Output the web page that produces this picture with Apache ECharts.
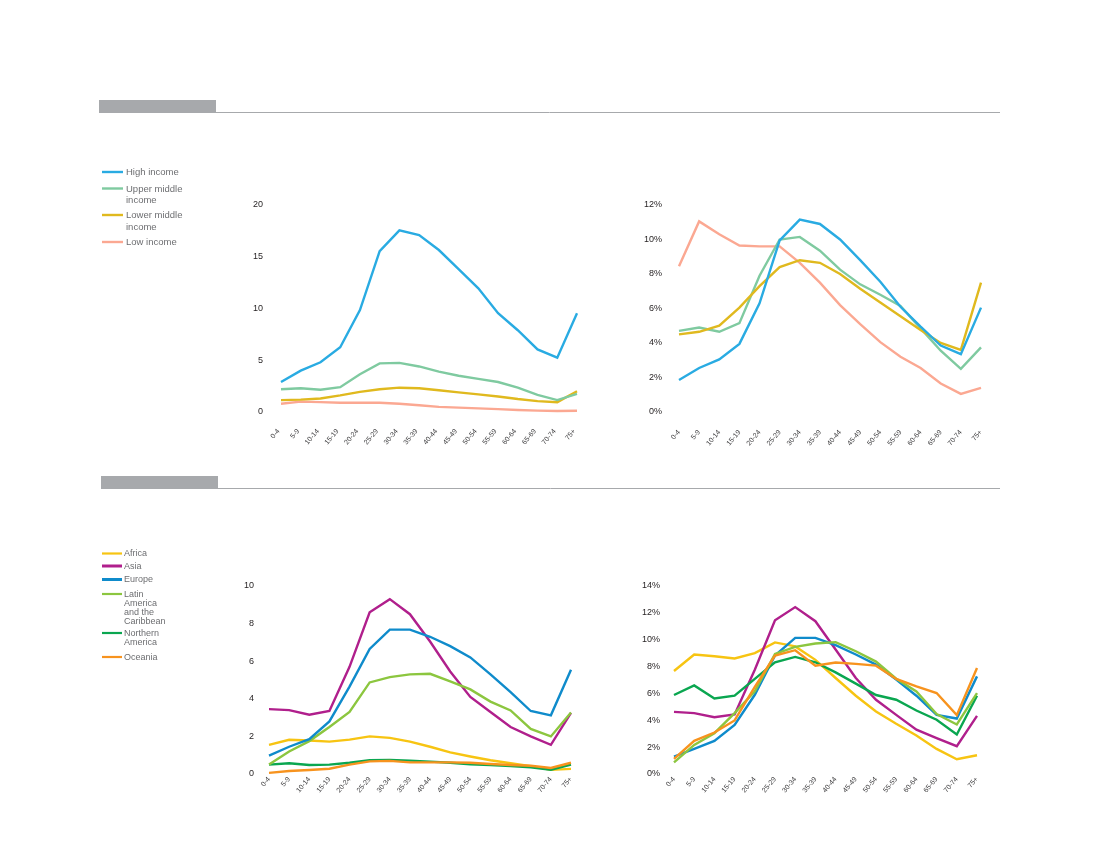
<!DOCTYPE html>
<html>
<head>
<meta charset="utf-8">
<style>
html, body { margin: 0; padding: 0; background: #fff; }
#main { width: 1100px; height: 850px; }
</style>
<script src="https://cdn.jsdelivr.net/npm/echarts@6/dist/echarts.min.js"></script>
</head>
<body>
<div id="main"></div>
<script>
var ages = ['0-4', '5-9', '10-14', '15-19', '20-24', '25-29', '30-34', '35-39', '40-44', '45-49', '50-54', '55-59', '60-64', '65-69', '70-74', '75+'];

// by income group, millions
var highAbs = [2.9, 4.0, 4.8, 6.25, 9.85, 15.55, 17.55, 17.1, 15.65, 13.8, 11.95, 9.55, 7.9, 6.05, 5.25, 9.55];
var upperAbs = [2.2, 2.3, 2.15, 2.4, 3.65, 4.7, 4.75, 4.4, 3.9, 3.5, 3.2, 2.9, 2.35, 1.65, 1.15, 1.75];
var lowerAbs = [1.15, 1.2, 1.3, 1.6, 1.95, 2.2, 2.35, 2.3, 2.1, 1.9, 1.7, 1.5, 1.25, 1.05, 0.95, 2.0];
var lowAbs = [0.8, 1.0, 0.95, 0.9, 0.9, 0.9, 0.8, 0.65, 0.5, 0.42, 0.35, 0.28, 0.2, 0.13, 0.1, 0.12];

// by income group, share %
var highPct = [1.85, 2.55, 3.05, 3.95, 6.3, 9.95, 11.15, 10.9, 10, 8.8, 7.55, 6.1, 4.95, 3.85, 3.35, 6.05];
var upperPct = [4.7, 4.9, 4.65, 5.15, 7.9, 10, 10.15, 9.35, 8.25, 7.4, 6.8, 6.15, 4.85, 3.55, 2.5, 3.75];
var lowerPct = [4.5, 4.65, 5.0, 6.05, 7.3, 8.4, 8.8, 8.65, 8, 7.15, 6.35, 5.55, 4.75, 4.0, 3.6, 7.5];
var lowPct = [8.45, 11.05, 10.3, 9.65, 9.6, 9.6, 8.65, 7.5, 6.2, 5.1, 4.05, 3.2, 2.55, 1.65, 1.05, 1.4];

// by region, millions
var africaAbs = [1.55, 1.82, 1.78, 1.72, 1.83, 2.0, 1.92, 1.72, 1.45, 1.15, 0.93, 0.73, 0.57, 0.42, 0.22, 0.27];
var asiaAbs = [3.45, 3.4, 3.15, 3.35, 5.7, 8.6, 9.3, 8.5, 7.05, 5.45, 4.1, 3.3, 2.5, 2.0, 1.55, 3.25];
var europeAbs = [0.98, 1.45, 1.85, 2.8, 4.65, 6.65, 7.68, 7.68, 7.3, 6.8, 6.2, 5.3, 4.35, 3.35, 3.12, 5.55];
var latinAbs = [0.5, 1.2, 1.75, 2.5, 3.3, 4.87, 5.15, 5.3, 5.33, 4.93, 4.5, 3.85, 3.38, 2.4, 2.0, 3.27];
var northAbs = [0.5, 0.57, 0.48, 0.5, 0.6, 0.73, 0.75, 0.71, 0.66, 0.6, 0.52, 0.48, 0.42, 0.35, 0.23, 0.5];
var oceaniaAbs = [0.06, 0.16, 0.21, 0.28, 0.5, 0.67, 0.7, 0.62, 0.62, 0.62, 0.6, 0.53, 0.48, 0.44, 0.32, 0.6];

// by region, share %
var africaPct = [7.67, 8.9, 8.77, 8.6, 9.0, 9.8, 9.5, 8.5, 7.15, 5.83, 4.66, 3.74, 2.87, 1.87, 1.1, 1.4];
var asiaPct = [4.63, 4.53, 4.23, 4.43, 7.77, 11.45, 12.43, 11.38, 9.27, 7.15, 5.53, 4.4, 3.3, 2.67, 2.07, 4.33];
var europePct = [1.3, 1.87, 2.47, 3.66, 5.9, 8.82, 10.14, 10.14, 9.6, 8.9, 8.15, 7.03, 5.83, 4.4, 4.13, 7.27];
var latinPct = [0.87, 2.17, 3.04, 4.53, 6.15, 8.94, 9.47, 9.72, 9.82, 9.14, 8.37, 7.1, 6.15, 4.46, 3.69, 6.03];
var northPct = [5.88, 6.6, 5.63, 5.83, 7.08, 8.32, 8.72, 8.32, 7.57, 6.73, 5.88, 5.53, 4.73, 4.04, 2.94, 5.83];
var oceaniaPct = [1.12, 2.47, 3.09, 3.99, 6.48, 8.82, 9.22, 8.07, 8.3, 8.2, 8.07, 7.08, 6.53, 6.03, 4.38, 7.9];

var incomeNames = ['High income', 'Upper middle\nincome', 'Lower middle\nincome', 'Low income'];
var incomeColors = ['#29abe2', '#7fcaa0', '#e0b91e', '#fba892'];
var regionNames = ['Africa', 'Asia', 'Europe', 'Latin\nAmerica\nand the\nCaribbean', 'Northern\nAmerica', 'Oceania'];
var regionColors = ['#f7c412', '#b01f8c', '#0f8bcb', '#8cc63f', '#0aa650', '#f7931e'];

var textFont = '"Liberation Sans", sans-serif';
var myChart = echarts.init(document.getElementById('main'), null, { renderer: 'canvas' });

// each panel: plot box in pixels and its y axis
var panels = [
    { left: 281, right: 523, top: 205, height: 207, max: 20, interval: 5, suffix: '', margin: 18, labelMargin: 15, labelPad: 4 },
    { left: 679, right: 119, top: 205, height: 207, max: 12, interval: 2, suffix: '%', margin: 17, labelMargin: 19, labelPad: 0 },
    { left: 269, right: 529, top: 586, height: 188, max: 10, interval: 2, suffix: '', margin: 15, labelMargin: 4, labelPad: 0 },
    { left: 674, right: 123, top: 586, height: 188, max: 14, interval: 2, suffix: '%', margin: 14, labelMargin: 4, labelPad: 0 }
];

var panelSeries = [
    { names: incomeNames, colors: incomeColors, data: [lowAbs, lowerAbs, upperAbs, highAbs], order: [3, 2, 1, 0] },
    { names: incomeNames, colors: incomeColors, data: [lowPct, upperPct, lowerPct, highPct], order: [3, 1, 2, 0] },
    { names: regionNames, colors: regionColors, data: [africaAbs, northAbs, oceaniaAbs, asiaAbs, latinAbs, europeAbs], order: [0, 4, 5, 1, 3, 2] },
    { names: regionNames, colors: regionColors, data: [africaPct, asiaPct, europePct, northPct, latinPct, oceaniaPct], order: [0, 1, 2, 4, 3, 5] }
];

var grids = [], xAxes = [], yAxes = [], series = [];
panels.forEach(function (p, i) {
    grids.push({ left: p.left, right: p.right, top: p.top, height: p.height });
    xAxes.push({
        type: 'category',
        gridIndex: i,
        data: ages,
        boundaryGap: false,
        axisLine: { show: false },
        axisTick: { show: false },
        splitLine: { show: false },
        axisLabel: {
            interval: 0,
            rotate: 50,
            fontSize: 7,
            color: '#414042',
            margin: p.labelMargin,
            padding: [0, p.labelPad, 0, 0],
            fontFamily: textFont,
            hideOverlap: false
        }
    });
    yAxes.push({
        type: 'value',
        gridIndex: i,
        min: 0,
        max: p.max,
        interval: p.interval,
        axisLine: { show: false },
        axisTick: { show: false },
        splitLine: { show: false },
        axisLabel: {
            fontSize: 9,
            color: '#231f20',
            margin: p.margin,
            fontFamily: textFont,
            formatter: '{value}' + p.suffix
        }
    });
    var s = panelSeries[i];
    s.data.forEach(function (values, k) {
        series.push({
            name: s.names[s.order[k]],
            type: 'line',
            xAxisIndex: i,
            yAxisIndex: i,
            data: values,
            symbol: 'none',
            silent: true,
            lineStyle: { width: 2.4, color: s.colors[s.order[k]], join: 'miter' }
        });
    });
});

// header bars and rules, legends are drawn by hand since the spacing is uneven
var graphics = [
    { type: 'rect', shape: { x: 99, y: 100, width: 117, height: 12 }, style: { fill: '#a7a9ac' } },
    { type: 'line', shape: { x1: 99, y1: 112.5, x2: 1000, y2: 112.5 }, style: { stroke: '#a7a9ac', lineWidth: 1 } },
    { type: 'rect', shape: { x: 101, y: 476, width: 117, height: 12 }, style: { fill: '#a7a9ac' } },
    { type: 'line', shape: { x1: 101, y1: 488.5, x2: 1000, y2: 488.5 }, style: { stroke: '#a7a9ac', lineWidth: 1 } }
];

function addLegend(names, colors, rowsY, lineX1, lineX2, textX, lineHeight, fontSize, widths) {
    names.forEach(function (name, i) {
        graphics.push({
            type: 'line',
            shape: { x1: lineX1, y1: rowsY[i], x2: lineX2, y2: rowsY[i] },
            style: { stroke: colors[i], lineWidth: widths[i] }
        });
        graphics.push({
            type: 'text',
            x: textX,
            y: rowsY[i] - lineHeight / 2 + 0.5,
            style: { text: name, font: fontSize + 'px ' + textFont, fill: '#6d6e71', lineHeight: lineHeight, textVerticalAlign: 'top' }
        });
    });
}
addLegend(incomeNames, incomeColors, [172, 188.5, 215, 242], 102, 123, 126, 11.5, 9.5, [2.4, 2.4, 2.4, 2.4]);
addLegend(regionNames, regionColors, [553.5, 566, 579.5, 594, 633, 657], 102, 122, 124, 9, 9, [2.2, 3, 3, 2.2, 2.2, 2.2]);

var option = {
    animation: false,
    backgroundColor: '#fff',
    grid: grids,
    xAxis: xAxes,
    yAxis: yAxes,
    series: series,
    graphic: graphics
};

myChart.setOption(option);
window.addEventListener('resize', myChart.resize);
</script>
</body>
</html>
